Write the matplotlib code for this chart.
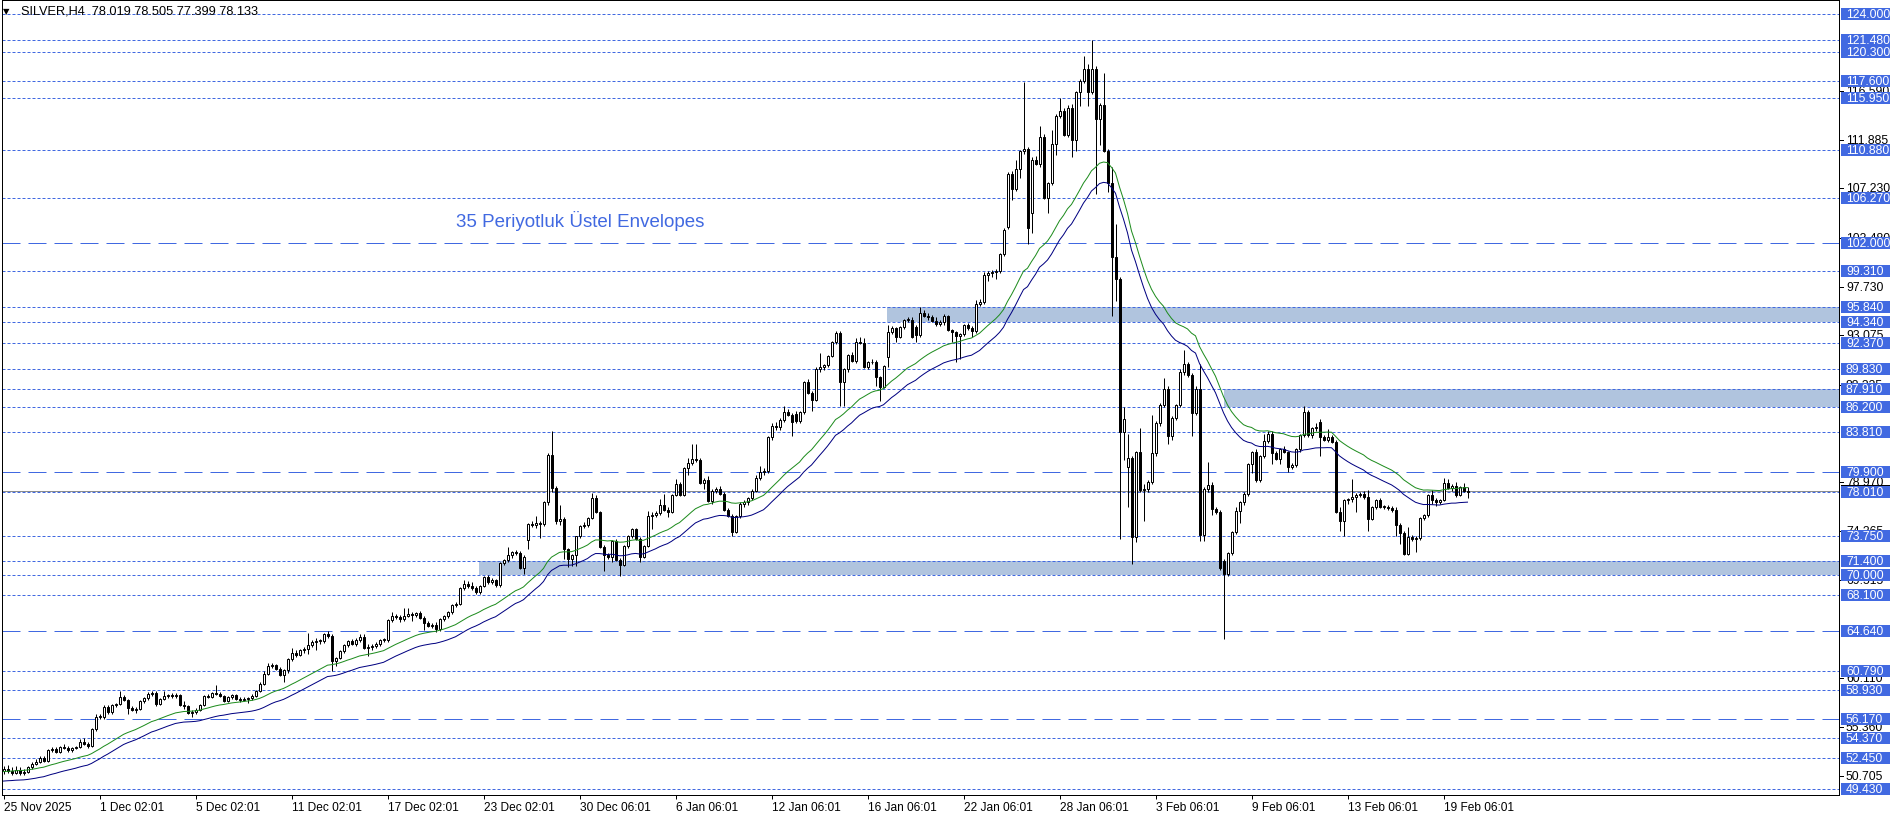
import matplotlib
matplotlib.use("Agg")
import matplotlib.pyplot as plt
from matplotlib.patches import Rectangle
import numpy as np

plt.rcParams['lines.scale_dashes'] = False

# ---------------- data ----------------
opens = [
    51.2, 51.4, 51.2, 51.0, 51.3, 51.0, 51.1, 51.5, 51.8, 52.0,
    52.4, 52.1, 53.2, 53.3, 53.0, 53.5, 53.4, 53.2, 53.4, 53.5,
    54.0, 53.8, 53.6, 55.2, 56.4, 56.4, 57.3, 56.8, 57.5, 57.6,
    58.3, 58.0, 57.2, 57.0, 57.1, 57.9, 58.2, 58.6, 58.7, 57.6,
    58.1, 58.4, 58.5, 58.4, 58.5, 57.5, 57.4, 56.7, 56.8, 57.0,
    57.5, 58.4, 58.3, 58.7, 58.6, 58.4, 57.9, 58.3, 58.5, 58.1,
    58.0, 58.1, 58.2, 58.4, 58.9, 59.5, 60.5, 61.3, 61.4, 61.0,
    60.4, 60.9, 61.9, 62.5, 62.3, 62.8, 62.9, 63.3, 63.6, 63.7,
    63.7, 64.3, 64.2, 61.7, 62.0, 62.7, 63.3, 63.7, 63.4, 63.8,
    64.1, 63.0, 63.1, 63.2, 63.4, 63.8, 63.8, 65.7, 66.1, 66.0,
    65.8, 66.1, 66.3, 66.2, 66.4, 65.9, 65.4, 65.1, 65.2, 64.8,
    65.8, 66.1, 66.5, 67.1, 67.2, 68.8, 69.2, 69.0, 68.8, 68.4,
    69.0, 69.8, 69.3, 69.5, 69.1, 71.2, 71.5, 71.9, 72.2, 72.1,
    70.7, 73.4, 74.9, 74.8, 75.0, 74.9, 77.0, 81.6, 78.4, 75.2,
    75.4, 72.5, 71.6, 71.9, 73.75, 74.7, 74.8, 75.5, 77.4, 76.1,
    72.7, 71.9, 71.8, 73.3, 71.5, 71.0, 72.8, 73.8, 74.4, 73.5,
    71.8, 72.8, 75.7, 75.8, 76.0, 76.8, 76.3, 76.1, 77.75, 78.8,
    77.75, 80.3, 80.8, 81.2, 81.1, 78.9, 79.2, 77.1, 78.1, 78.3,
    77.8, 76.3, 75.7, 74.2, 75.7, 76.9, 77.0, 77.4, 78.1, 79.4,
    79.9, 80.0, 83.3, 84.4, 84.3, 84.9, 85.7, 85.4, 85.5, 84.8,
    85.7, 88.6, 87.5, 86.9, 89.8, 90.0, 90.2, 91.1, 92.4, 93.3,
    88.6, 89.8, 91.2, 90.6, 92.4, 92.3, 90.0, 90.5, 90.5, 89.1,
    88.1, 91.0, 93.4, 93.8, 92.9, 93.85, 94.6, 94.6, 93.9, 93.1,
    95.2, 94.9, 94.8, 94.5, 94.2, 94.4, 94.9, 93.6, 93.4, 93.0,
    93.2, 94.1, 93.8, 93.5, 96.1, 96.3, 98.9, 99.1, 99.2, 99.3,
    100.9, 103.5, 108.6, 107.2, 109.1, 110.8, 111.0, 104.9, 110.0, 109.6,
    112.2, 106.3, 107.7, 111.5, 114.2, 114.7, 112.4, 115.0, 111.9, 116.5,
    117.6, 118.7, 116.5, 118.7, 113.9, 115.2, 110.8, 107.7, 100.6, 98.5,
    83.8, 80.4, 81.3, 73.7, 81.9, 78.2, 78.3, 79.0, 81.8, 84.6,
    86.4, 87.9, 83.4, 85.1, 86.4, 89.6, 90.3, 89.3, 85.6, 87.9,
    73.9, 78.3, 78.7, 76.4, 76.1, 71.4, 70.1, 72.1, 74.2, 76.2,
    77.0, 77.8, 80.7, 81.9, 79.2, 81.5, 82.9, 83.6, 81.8, 81.2,
    82.1, 81.9, 80.4, 80.6, 82.1, 83.5, 85.7, 83.5, 84.2, 84.7,
    83.3, 83.0, 83.3, 82.8, 76.1, 75.2, 77.2, 77.3, 77.5, 77.7,
    77.8, 77.5, 75.4, 76.6, 77.2, 76.6, 76.6, 76.5, 76.3, 74.8,
    74.1, 72.0, 73.7, 73.5, 73.6, 75.5, 75.8, 77.7, 77.2, 77.0,
    77.2, 78.9, 78.4, 78.6, 77.7, 78.5, 78.019,
]
highs = [
    51.6, 51.7, 51.5, 51.6, 51.5, 51.4, 51.6, 52.0, 52.3, 52.6,
    52.6, 53.3, 53.5, 53.5, 53.6, 53.8, 53.6, 53.5, 53.6, 54.2,
    54.3, 54.0, 55.3, 56.6, 56.6, 57.5, 57.5, 57.6, 57.7, 58.9,
    58.5, 58.1, 57.4, 57.3, 58.0, 58.3, 58.8, 58.9, 58.9, 58.2,
    58.9, 58.6, 58.7, 58.7, 58.6, 57.9, 57.5, 57.0, 57.2, 57.6,
    58.5, 58.6, 58.8, 59.4, 58.8, 58.5, 58.4, 58.6, 58.6, 58.3,
    58.3, 58.3, 58.6, 59.0, 59.7, 60.8, 61.6, 61.6, 61.5, 61.2,
    61.0, 62.0, 63.0, 62.8, 62.9, 63.1, 64.4, 63.8, 64.0, 63.9,
    64.4, 64.6, 64.3, 62.1, 62.8, 63.4, 63.8, 63.9, 64.0, 64.3,
    64.3, 63.4, 63.4, 63.6, 63.9, 64.0, 65.8, 66.5, 66.3, 66.2,
    66.8, 66.8, 66.5, 66.5, 66.6, 66.1, 65.6, 65.4, 65.5, 65.9,
    66.2, 66.6, 67.2, 67.4, 68.9, 69.5, 69.4, 69.3, 69.0, 69.1,
    69.9, 70.0, 69.7, 69.6, 71.3, 71.6, 72.7, 72.3, 72.4, 72.3,
    71.9, 75.0, 75.2, 75.7, 75.2, 77.1, 81.8, 83.9, 78.6, 76.8,
    75.6, 72.6, 72.0, 73.8, 74.8, 75.1, 75.6, 77.9, 77.7, 76.2,
    72.9, 72.1, 73.4, 73.5, 71.7, 72.9, 73.9, 74.5, 74.5, 73.7,
    72.9, 76.2, 76.1, 76.2, 77.3, 77.8, 76.6, 77.8, 79.3, 79.0,
    80.4, 81.3, 82.6, 82.6, 81.3, 79.4, 79.5, 78.3, 78.5, 78.6,
    78.0, 76.5, 75.9, 75.8, 77.0, 77.2, 77.5, 78.3, 79.6, 80.5,
    80.3, 83.4, 84.6, 84.7, 85.1, 86.3, 86.0, 85.6, 85.8, 85.8,
    88.7, 88.9, 87.7, 90.0, 91.4, 90.3, 91.2, 92.5, 93.5, 93.5,
    89.9, 91.3, 91.5, 92.8, 92.9, 92.8, 90.6, 90.8, 90.7, 89.2,
    90.2, 94.1, 94.0, 93.9, 94.0, 94.7, 94.8, 94.8, 94.1, 95.8,
    95.5, 95.2, 95.0, 94.8, 94.6, 95.1, 95.0, 93.7, 93.5, 93.3,
    94.2, 94.3, 94.0, 96.5, 96.6, 99.2, 99.3, 99.4, 99.5, 101.0,
    103.4, 108.8, 108.9, 110.0, 110.9, 117.5, 111.2, 110.2, 110.3, 113.2,
    112.5, 107.8, 112.8, 114.4, 115.9, 115.0, 115.2, 115.3, 116.6, 117.7,
    120.0, 119.2, 121.5, 119.0, 115.4, 118.3, 111.0, 109.3, 103.8, 98.7,
    86.2, 83.6, 81.5, 82.0, 84.2, 78.8, 79.2, 85.4, 84.8, 86.6,
    89.0, 88.2, 85.3, 86.5, 89.8, 91.7, 90.5, 89.5, 88.2, 90.3,
    78.5, 80.9, 79.0, 76.6, 76.3, 71.6, 72.2, 74.3, 76.6, 77.1,
    78.0, 80.8, 82.0, 82.1, 81.6, 83.6, 83.9, 83.9, 82.0, 82.2,
    82.4, 82.0, 80.8, 82.2, 83.6, 86.3, 85.9, 84.3, 84.6, 85.0,
    83.5, 84.1, 83.5, 83.0, 76.6, 77.3, 77.4, 79.3, 77.9, 78.0,
    78.1, 78.2, 76.7, 77.3, 77.4, 76.8, 76.8, 76.7, 76.6, 75.0,
    74.3, 74.6, 73.9, 73.8, 75.6, 75.9, 77.8, 78.2, 77.4, 77.3,
    79.4, 79.3, 78.8, 79.0, 78.6, 78.9, 78.505,
]
lows = [
    50.9, 51.0, 50.8, 50.9, 50.8, 50.8, 51.0, 51.4, 51.7, 51.9,
    52.0, 52.0, 53.0, 52.9, 52.9, 53.3, 53.0, 53.0, 53.3, 53.4,
    53.7, 53.4, 53.5, 55.0, 56.2, 56.2, 56.6, 56.6, 57.3, 57.5,
    57.9, 56.6, 56.9, 56.7, 57.0, 57.7, 58.0, 58.4, 57.4, 57.5,
    58.0, 58.2, 58.2, 58.2, 57.4, 57.1, 56.6, 56.4, 56.6, 56.9,
    57.4, 58.2, 58.2, 58.5, 58.3, 57.8, 57.8, 58.1, 58.0, 57.8,
    57.9, 57.7, 58.0, 58.3, 58.8, 59.4, 60.4, 61.1, 60.9, 60.3,
    59.7, 60.6, 61.7, 62.1, 62.2, 62.5, 62.4, 63.1, 62.8, 63.4,
    63.5, 64.0, 60.8, 61.3, 61.9, 62.5, 63.1, 63.3, 63.2, 63.6,
    62.9, 62.2, 62.8, 63.0, 63.2, 63.6, 63.6, 65.5, 65.8, 65.5,
    65.6, 66.0, 65.6, 66.0, 65.8, 64.7, 65.0, 64.9, 64.5, 64.6,
    65.6, 65.9, 66.3, 66.9, 67.1, 68.6, 68.8, 68.6, 68.2, 68.2,
    68.9, 69.2, 69.2, 68.9, 68.9, 71.0, 71.3, 71.7, 71.9, 70.6,
    70.1, 72.5, 74.6, 74.5, 73.6, 74.7, 76.8, 78.0, 74.9, 74.8,
    71.6, 70.8, 70.9, 70.9, 73.6, 74.5, 74.6, 75.4, 76.0, 72.6,
    70.4, 71.6, 71.3, 71.4, 69.9, 70.9, 72.6, 73.6, 73.4, 71.3,
    71.7, 72.7, 74.4, 75.6, 75.8, 76.2, 75.6, 76.0, 77.6, 77.6,
    77.6, 79.6, 80.6, 80.9, 78.8, 78.3, 77.0, 76.9, 77.9, 77.7,
    76.2, 75.6, 73.75, 74.1, 75.5, 76.6, 76.8, 77.2, 78.0, 79.2,
    79.6, 79.8, 83.0, 84.0, 84.0, 84.7, 85.3, 83.4, 84.6, 84.6,
    85.5, 87.4, 85.8, 86.8, 89.6, 89.7, 90.0, 91.0, 92.2, 86.3,
    86.3, 89.6, 90.5, 90.4, 92.2, 89.9, 89.8, 90.3, 88.2, 86.8,
    88.0, 90.0, 93.2, 92.4, 92.8, 93.7, 94.4, 92.8, 92.4, 92.9,
    94.8, 94.6, 94.4, 94.0, 94.0, 94.1, 93.5, 92.4, 90.5, 90.8,
    93.0, 93.6, 92.9, 93.3, 95.9, 96.1, 98.3, 98.7, 98.5, 99.1,
    100.7, 103.3, 106.1, 107.0, 108.2, 110.5, 101.9, 102.9, 109.5, 109.3,
    106.2, 104.9, 107.5, 110.4, 114.0, 112.3, 112.2, 110.2, 110.8, 115.1,
    117.4, 115.1, 116.3, 106.7, 111.4, 110.7, 106.9, 94.9, 96.4, 73.5,
    81.1, 76.6, 71.1, 73.2, 78.0, 75.2, 78.0, 78.8, 81.5, 84.4,
    86.2, 82.6, 83.0, 84.9, 86.2, 89.3, 89.1, 83.4, 85.4, 73.3,
    73.3, 78.0, 75.8, 75.9, 70.5, 63.9, 69.9, 71.9, 74.0, 75.0,
    76.8, 77.6, 79.8, 79.0, 79.0, 81.3, 82.7, 80.7, 81.1, 80.7,
    81.8, 79.9, 80.2, 80.4, 81.9, 83.3, 83.3, 83.2, 83.9, 81.5,
    82.9, 82.8, 82.7, 76.0, 74.3, 73.8, 76.9, 77.0, 76.1, 77.5,
    77.3, 74.3, 75.3, 76.4, 76.5, 76.4, 76.3, 76.1, 73.8, 73.0,
    71.9, 71.9, 73.3, 72.2, 73.4, 75.3, 75.6, 76.9, 76.7, 76.9,
    77.1, 78.3, 78.1, 77.5, 77.6, 78.0, 77.399,
]
closes = [
    51.4, 51.2, 51.0, 51.3, 51.0, 51.1, 51.5, 51.8, 52.0, 52.4,
    52.1, 53.2, 53.3, 53.0, 53.5, 53.4, 53.2, 53.4, 53.5, 54.0,
    53.8, 53.6, 55.2, 56.4, 56.4, 57.3, 56.8, 57.5, 57.6, 58.3,
    58.0, 57.2, 57.0, 57.1, 57.9, 58.2, 58.6, 58.7, 57.6, 58.1,
    58.4, 58.5, 58.4, 58.5, 57.5, 57.4, 56.7, 56.8, 57.0, 57.5,
    58.4, 58.3, 58.7, 58.6, 58.4, 57.9, 58.3, 58.5, 58.1, 58.0,
    58.1, 58.2, 58.4, 58.9, 59.5, 60.5, 61.3, 61.4, 61.0, 60.4,
    60.9, 61.9, 62.5, 62.3, 62.8, 62.9, 63.3, 63.6, 63.7, 63.7,
    64.3, 64.2, 61.7, 62.0, 62.7, 63.3, 63.7, 63.4, 63.8, 64.1,
    63.0, 63.1, 63.2, 63.4, 63.8, 63.8, 65.7, 66.1, 66.0, 65.8,
    66.1, 66.3, 66.2, 66.4, 65.9, 65.4, 65.1, 65.2, 64.8, 65.8,
    66.1, 66.5, 67.1, 67.2, 68.8, 69.2, 69.0, 68.8, 68.4, 69.0,
    69.8, 69.3, 69.5, 69.1, 71.2, 71.5, 71.9, 72.2, 72.1, 70.7,
    71.8, 74.9, 74.8, 75.0, 74.9, 77.0, 81.6, 78.4, 75.2, 75.4,
    72.5, 71.6, 71.9, 73.75, 74.7, 74.8, 75.5, 77.4, 76.1, 72.7,
    71.9, 71.8, 73.3, 71.5, 71.0, 72.8, 73.8, 74.4, 73.5, 71.8,
    72.8, 75.7, 75.8, 76.0, 76.8, 76.3, 76.1, 77.75, 78.8, 77.75,
    80.3, 80.8, 81.2, 81.1, 78.9, 79.2, 77.1, 78.1, 78.3, 77.8,
    76.3, 75.7, 74.2, 75.7, 76.9, 77.0, 77.4, 78.1, 79.4, 79.9,
    80.0, 83.3, 84.4, 84.3, 84.9, 85.7, 85.4, 84.7, 84.8, 85.7,
    88.6, 87.5, 86.9, 89.8, 90.0, 90.2, 91.1, 92.4, 93.3, 88.6,
    89.8, 91.2, 90.6, 92.4, 92.3, 90.0, 90.5, 90.5, 89.1, 88.1,
    90.1, 93.4, 93.8, 92.9, 93.85, 94.6, 94.6, 92.9, 93.1, 95.2,
    94.9, 94.8, 94.5, 94.2, 94.4, 94.9, 93.6, 93.4, 93.0, 93.2,
    94.1, 93.8, 93.5, 96.1, 96.3, 98.9, 99.1, 99.2, 99.3, 100.9,
    103.2, 108.6, 107.2, 109.1, 110.8, 111.0, 103.4, 110.0, 109.6, 112.2,
    106.3, 107.7, 111.5, 114.2, 114.7, 112.4, 115.0, 111.9, 116.5, 117.6,
    118.7, 116.5, 118.7, 113.9, 115.2, 110.8, 107.7, 100.6, 98.5, 83.8,
    85.0, 81.3, 73.7, 81.9, 78.2, 78.3, 79.0, 81.8, 84.6, 86.4,
    87.9, 83.4, 85.1, 86.4, 89.6, 90.3, 89.3, 85.6, 87.9, 73.9,
    78.3, 78.7, 76.4, 76.1, 70.7, 70.1, 72.1, 74.2, 76.2, 77.0,
    77.8, 80.7, 81.9, 79.2, 81.5, 82.9, 83.6, 81.8, 81.2, 82.1,
    81.9, 80.4, 80.6, 82.1, 83.5, 85.7, 83.5, 84.2, 84.3, 83.3,
    83.0, 83.3, 82.8, 76.1, 75.2, 77.2, 77.3, 77.5, 77.7, 77.8,
    77.5, 75.4, 76.6, 77.2, 76.6, 76.6, 76.5, 76.3, 74.8, 74.1,
    72.0, 73.7, 73.5, 73.6, 75.5, 75.8, 77.7, 77.2, 77.0, 77.2,
    78.9, 78.4, 78.6, 77.7, 78.5, 78.1, 78.133,
]

time_labels = ["25 Nov 2025", "1 Dec 02:01", "5 Dec 02:01", "11 Dec 02:01",
               "17 Dec 02:01", "23 Dec 02:01", "30 Dec 06:01", "6 Jan 06:01",
               "12 Jan 06:01", "16 Jan 06:01", "22 Jan 06:01", "28 Jan 06:01",
               "3 Feb 06:01", "9 Feb 06:01", "13 Feb 06:01", "19 Feb 06:01"]
time_label_bars = [0, 24, 48, 72, 96, 120, 144, 168, 192, 216, 240, 264,
                   288, 312, 336, 360]

dotted_levels = [124.0, 121.48, 120.3, 117.6, 115.95, 110.88, 106.27, 99.31,
                 95.84, 94.34, 92.37, 89.83, 87.91, 86.2, 83.81, 78.01,
                 73.75, 71.4, 70.0, 68.1, 60.79, 58.93, 54.37, 52.45, 49.43]
dashed_levels = [102.0, 79.9, 64.64, 56.17]

zone_low = [94.34, 86.2, 70.0]
zone_high = [95.84, 87.91, 71.4]
zone_start_bar = [220.9, 305.0, 118.9]

# price-scale ticks that show (at least partly) beside the level labels
scale_ticks = [50.705, 55.360, 60.110, 69.515, 74.265, 78.970,
               88.335, 93.075, 97.730, 102.480, 107.230, 111.885, 116.590]

bid_price = 78.133
ema_period = 35
ema_start = 50.65       # envelope centre at the first visible bar
env_dev = 0.009         # envelope deviation (fraction)

# ---------------- layout ----------------
W, H = 1896, 820
PX = 10.393             # pixels per price unit
top_px, bot_px, left_px, right_px = 1, 796, 2, 1839
ymax = 124 + (15 - top_px) / PX
ymin = 124 - (bot_px - 15) / PX
xmin = (left_px - 3.5) / 4
xmax = (right_px - 3.5) / 4
LW = 0.72               # one pixel in points

BLUE = '#4169E1'
fig = plt.figure(figsize=(W / 100, H / 100), dpi=100)
fig.patch.set_facecolor('white')
ax = fig.add_axes([left_px / W, 1 - bot_px / H, (right_px - left_px) / W,
                   (bot_px - top_px) / H])
ax.set_xlim(xmin, xmax)
ax.set_ylim(ymin, ymax)
ax.set_facecolor('white')

# zones
for lo, hi, st in zip(zone_low, zone_high, zone_start_bar):
    ax.add_patch(Rectangle((st, lo), xmax - st, hi - lo, facecolor='#B0C4DE',
                           edgecolor='none', zorder=1))

# horizontal levels
for lv in dotted_levels:
    ax.axhline(lv, color=BLUE, lw=LW, linestyle=(0, (3 * LW, 2 * LW)), zorder=2)
for lv in dashed_levels:
    ax.axhline(lv, color=BLUE, lw=LW, linestyle=(0, (18 * LW, 8 * LW)), zorder=2)
ax.axhline(bid_price, color='#8C8C8C', lw=LW, zorder=2)

# envelopes (exponential MA of close)
o = np.array(opens); h = np.array(highs); l = np.array(lows); c = np.array(closes)
n = len(c)
x = np.arange(n)
alpha = 2.0 / (ema_period + 1)
ema = np.empty(n)
ema[0] = ema_start
for i in range(1, n):
    ema[i] = ema[i - 1] + alpha * (c[i] - ema[i - 1])
ax.plot(x, ema * (1 + env_dev), color='#1E8C1E', lw=LW, zorder=5)
ax.plot(x, ema * (1 - env_dev), color='#000080', lw=LW, zorder=5)

# candles
ax.vlines(x, np.minimum(l, np.minimum(o, c)), np.maximum(h, np.maximum(o, c)),
          color='black', lw=LW, zorder=3)
bottom = np.minimum(o, c)
height = np.maximum(np.abs(c - o), 0.02)
colors = np.where(c >= o, 'white', 'black')
ax.bar(x, height, bottom=bottom, width=0.5, color=colors, edgecolor='black',
       linewidth=LW, zorder=4)

# annotation
ax.text(113.1, 104.18, "35 Periyotluk Üstel Envelopes", color=BLUE,
        fontsize=13.5, family='Liberation Sans', va='center', ha='left', zorder=6)

# axes styling
ax.set_yticks([])
ax.set_xticks(time_label_bars)
ax.set_xticklabels(time_labels, ha='left', family='Liberation Sans', fontsize=8.6)
ax.tick_params(axis='x', direction='out', length=3.5 * LW, width=LW, pad=2,
               colors='black')
for s in ax.spines.values():
    s.set_linewidth(LW)
    s.set_color('black')

# title
fig.text(3 / W, 1 - 12 / H, "\u25bc", fontsize=6, family='DejaVu Sans',
         va='center', ha='left', color='black')
fig.text(21 / W, 1 - 12 / H, "SILVER,H4  78.019 78.505 77.399 78.133",
         fontsize=9.2, family='Liberation Sans', va='center', ha='left',
         color='black')

# right price scale
axr = fig.add_axes([right_px / W, 1 - bot_px / H, (W - right_px) / W,
                    (bot_px - top_px) / H])
axr.set_xlim(0, W - right_px)
axr.set_ylim(ymin, ymax)
axr.axis('off')
bh = 12 / PX
for t in scale_ticks:
    axr.plot([0, 4], [t, t], color='black', lw=LW)
    axr.text(7, t, f"{t:.3f}", fontsize=8.7, family='Liberation Sans',
             va='center', ha='left', color='black')
axr.add_patch(Rectangle((2, bid_price - bh / 2), 49, bh, facecolor='black',
                        edgecolor='none', zorder=3))
axr.text(7, bid_price, f"{bid_price:.3f}", fontsize=8.7, family='Liberation Sans',
         va='center', ha='left', color='white', zorder=4)
for lv in sorted(dotted_levels + dashed_levels):
    axr.add_patch(Rectangle((2, lv - bh / 2), 49, bh, facecolor=BLUE,
                            edgecolor='none', zorder=5))
    axr.text(7, lv, f"{lv:.3f}", fontsize=8.7, family='Liberation Sans',
             va='center', ha='left', color='white', zorder=6)

fig.savefig("out.png", dpi=100)
